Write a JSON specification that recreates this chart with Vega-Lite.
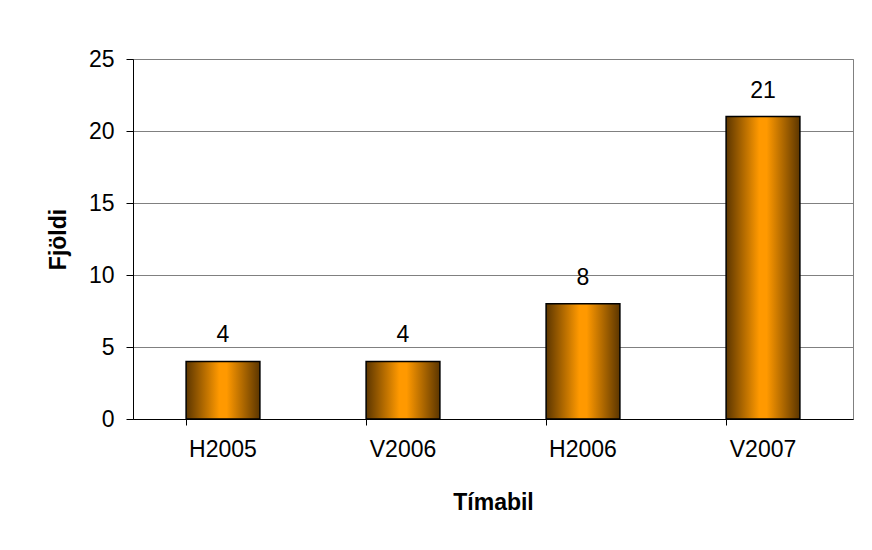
{
  "$schema": "https://vega.github.io/schema/vega-lite/v6.json",
  "autosize": "none",
  "width": 720,
  "height": 360,
  "padding": {"left": 133, "top": 59, "right": 19, "bottom": 131},
  "background": "white",
  "config": {
    "font": "Liberation Sans",
    "view": {"stroke": "#808080", "strokeWidth": 1}
  },
  "data": {
    "values": [
      {"Tímabil": "H2005", "Fjöldi": 4},
      {"Tímabil": "V2006", "Fjöldi": 4},
      {"Tímabil": "H2006", "Fjöldi": 8},
      {"Tímabil": "V2007", "Fjöldi": 21}
    ]
  },
  "encoding": {
    "x": {
      "field": "Tímabil",
      "type": "nominal",
      "sort": null,
      "scale": {"paddingInner": 0.59, "paddingOuter": 0.295},
      "axis": {
        "title": "Tímabil",
        "titleFontSize": 23,
        "titleFontWeight": "bold",
        "titleColor": "black",
        "titlePadding": 30,
        "labelFontSize": 23,
        "labelColor": "black",
        "labelAngle": 0,
        "labelPadding": 13,
        "domainColor": "black",
        "tickColor": "black",
        "tickSize": 6,
        "bandPosition": 0,
        "grid": false
      }
    },
    "y": {
      "field": "Fjöldi",
      "type": "quantitative",
      "scale": {"domain": [0, 25]},
      "axis": {
        "title": "Fjöldi",
        "values": [0, 5, 10, 15, 20, 25],
        "titleFontSize": 23,
        "titleFontWeight": "bold",
        "titleColor": "black",
        "titlePadding": 18,
        "labelFontSize": 23,
        "labelColor": "black",
        "labelPadding": 12,
        "domainColor": "black",
        "tickColor": "black",
        "tickSize": 7,
        "grid": true,
        "gridColor": "#808080",
        "gridOpacity": 1
      }
    }
  },
  "layer": [
    {
      "mark": {
        "type": "bar",
        "stroke": "black",
        "strokeWidth": 1.5,
        "fill": {
          "gradient": "linear",
          "x1": 0, "y1": 0, "x2": 1, "y2": 0,
          "stops": [
            {"offset": 0, "color": "#5c3600"},
            {"offset": 0.45, "color": "#ff9900"},
            {"offset": 0.55, "color": "#ff9900"},
            {"offset": 1, "color": "#5c3600"}
          ]
        }
      }
    },
    {
      "mark": {"type": "text", "baseline": "alphabetic", "dy": -19, "fontSize": 23, "color": "black"},
      "encoding": {"text": {"field": "Fjöldi", "type": "quantitative"}}
    }
  ]
}
